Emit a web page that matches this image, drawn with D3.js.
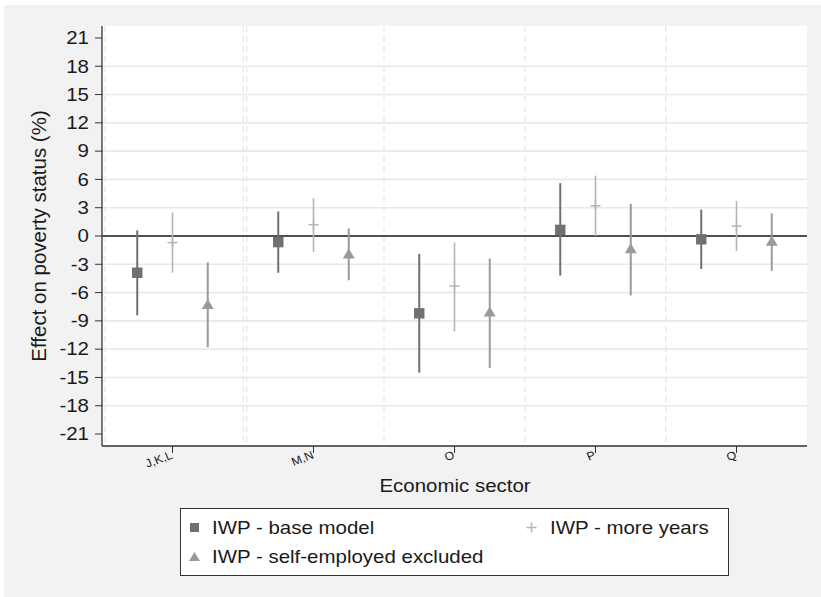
<!DOCTYPE html>
<html>
<head>
<meta charset="utf-8">
<script src="https://cdn.jsdelivr.net/npm/d3@7"></script>
<style>
  html, body { margin: 0; padding: 0; background: #fff; }
  text { font-family: "Liberation Sans", Arial, sans-serif; fill: #1a1a1a; }
</style>
</head>
<body>
<div id="chart"></div>
<script>
// sectors and estimates (effect on poverty status, %)
const sectors = ["J,K,L", "M,N", "O", "P", "Q"];
const baseEst = [-3.9, -0.65, -8.2, 0.65, -0.35];
const baseLo  = [-8.4, -3.9, -14.5, -4.2, -3.5];
const baseHi  = [0.6, 2.6, -1.9, 5.6, 2.8];
const yearsEst = [-0.7, 1.2, -5.3, 3.2, 1.05];
const yearsLo  = [-3.9, -1.7, -10.1, 0.0, -1.6];
const yearsHi  = [2.5, 4.0, -0.7, 6.4, 3.7];
const selfEst = [-7.2, -1.85, -8.0, -1.3, -0.5];
const selfLo  = [-11.8, -4.7, -14.0, -6.3, -3.7];
const selfHi  = [-2.8, 0.8, -2.4, 3.4, 2.4];
const yTicks = [-21, -18, -15, -12, -9, -6, -3, 0, 3, 6, 9, 12, 15, 18, 21];
const sepLines = [-0.479, 0.502, 0.526, 1.5, 2.5, 3.498];

const W = 821, H = 597;
const SX = 1.17; // picture is stretched sideways
const plot = {left: 102, right: 807, top: 26, bottom: 446};

const svg = d3.select("#chart").append("svg").attr("width", W).attr("height", H);
svg.append("rect").attr("x", 4).attr("y", 5).attr("width", W - 4).attr("height", H - 5).attr("fill", "#f2f2f2");
svg.append("rect").attr("x", plot.left).attr("y", plot.top).attr("width", plot.right - plot.left).attr("height", plot.bottom - plot.top).attr("fill", "#fff");

const x = d3.scaleLinear().domain([-0.5, sectors.length - 0.5]).range([plot.left, plot.right]);
const y = d3.scaleLinear().domain([-22.27, 22.27]).range([plot.bottom, plot.top]);

function label(g, px, py, str, size, anchor, rot, sx = SX) {
    const t = g.append("g").attr("transform", `translate(${px},${py}) scale(${sx},1)` + (rot ? ` rotate(${rot})` : ""))
        .append("text").attr("font-size", size).attr("text-anchor", anchor).text(str);
    return t;
}

// grid
const grid = svg.append("g");
grid.selectAll("line.h").data(yTicks.filter(d => Math.abs(d) < 21 && d !== 0)).join("line")
    .attr("x1", plot.left).attr("x2", plot.right).attr("y1", d => y(d)).attr("y2", d => y(d))
    .attr("stroke", "#e9e9e9").attr("stroke-width", 1.6);
grid.selectAll("line.v").data(sepLines).join("line")
    .attr("x1", d => x(d)).attr("x2", d => x(d)).attr("y1", plot.top).attr("y2", plot.bottom)
    .attr("stroke", "#e6e6e6").attr("stroke-width", 1.2).attr("stroke-dasharray", "6,4");

// zero line
svg.append("line").attr("x1", plot.left).attr("x2", plot.right).attr("y1", y(0)).attr("y2", y(0))
    .attr("stroke", "#505050").attr("stroke-width", 2);

// axes
const axes = svg.append("g").attr("stroke", "#333");
axes.append("line").attr("x1", plot.left).attr("x2", plot.left).attr("y1", plot.top).attr("y2", plot.bottom).attr("stroke-width", 1.3);
axes.append("line").attr("x1", plot.left).attr("x2", plot.right).attr("y1", plot.bottom).attr("y2", plot.bottom).attr("stroke-width", 1.3);
axes.selectAll("line.yt").data(yTicks).join("line")
    .attr("x1", plot.left - 7).attr("x2", plot.left).attr("y1", d => y(d)).attr("y2", d => y(d)).attr("stroke-width", 1);
axes.selectAll("line.xt").data(sectors).join("line")
    .attr("x1", (d, i) => x(i)).attr("x2", (d, i) => x(i)).attr("y1", plot.bottom).attr("y2", plot.bottom + 7).attr("stroke-width", 1);

const labels = svg.append("g");
yTicks.forEach(v => label(labels, 89, y(v), v, 17.5, "end").attr("dy", "0.36em"));
sectors.forEach((s, i) => label(labels, x(i) + 1, plot.bottom + 12, s, 11.5, "end", -22, 1.08));
label(labels, 455, 491.5, "Economic sector", 17.5, "middle");
label(labels, 45.5, 236, "Effect on poverty status (%)", 20.5, "middle", -90, 1);

// series
const series = [
    {off: -0.25, est: baseEst, lo: baseLo, hi: baseHi, color: "#707070", lineW: 2, shape: "square"},
    {off: 0, est: yearsEst, lo: yearsLo, hi: yearsHi, color: "#b5b5b5", lineW: 1.6, shape: "cross"},
    {off: 0.25, est: selfEst, lo: selfLo, hi: selfHi, color: "#9a9a9a", lineW: 2, shape: "triangle"}
];

function drawMarker(g, shape, cx, cy, color) {
    if (shape === "square") {
        g.append("rect").attr("x", cx - 5.2).attr("y", cy - 5.2).attr("width", 10.4).attr("height", 10.4).attr("fill", color);
    } else if (shape === "triangle") {
        g.append("path").attr("d", `M${cx - 6},${cy + 5} L${cx + 6},${cy + 5} L${cx},${cy - 5} Z`).attr("fill", color);
    } else {
        g.append("line").attr("x1", cx - 5).attr("x2", cx + 5).attr("y1", cy).attr("y2", cy).attr("stroke", color).attr("stroke-width", 1.5);
        g.append("line").attr("x1", cx).attr("x2", cx).attr("y1", cy - 5).attr("y2", cy + 5).attr("stroke", color).attr("stroke-width", 1.5);
    }
}

const marks = svg.append("g");
series.forEach(s => {
    const g = marks.append("g");
    sectors.forEach((sec, i) => {
        const cx = x(i + s.off);
        g.append("line").attr("x1", cx).attr("x2", cx).attr("y1", y(s.lo[i])).attr("y2", y(s.hi[i]))
            .attr("stroke", s.color).attr("stroke-width", s.lineW);
        drawMarker(g, s.shape, cx, y(s.est[i]), s.color);
    });
});

// legend
const lg = svg.append("g");
lg.append("rect").attr("x", 180.5).attr("y", 508.5).attr("width", 548).attr("height", 67)
    .attr("fill", "#fff").attr("stroke", "#333").attr("stroke-width", 1);
const legendItems = [
    {s: series[0], text: "IWP - base model", mx: 194.5, my: 527.5, tx: 212, ty: 534},
    {s: series[1], text: "IWP - more years", mx: 531.5, my: 527.5, tx: 550, ty: 534},
    {s: series[2], text: "IWP - self-employed excluded", mx: 194.5, my: 556.5, tx: 212, ty: 563.3}
];
legendItems.forEach(d => {
    const g = lg.append("g");
    if (d.s.shape === "square") {
        g.append("rect").attr("x", d.mx - 4.5).attr("y", d.my - 4.5).attr("width", 9).attr("height", 9).attr("fill", d.s.color);
    } else if (d.s.shape === "triangle") {
        g.append("path").attr("d", `M${d.mx - 5.5},${d.my + 4.5} L${d.mx + 5.5},${d.my + 4.5} L${d.mx},${d.my - 4.5} Z`).attr("fill", d.s.color);
    } else {
        drawMarker(g, "cross", d.mx, d.my, d.s.color);
    }
    label(g, d.tx, d.ty, d.text, 17.5, "start");
});
</script>
</body>
</html>
